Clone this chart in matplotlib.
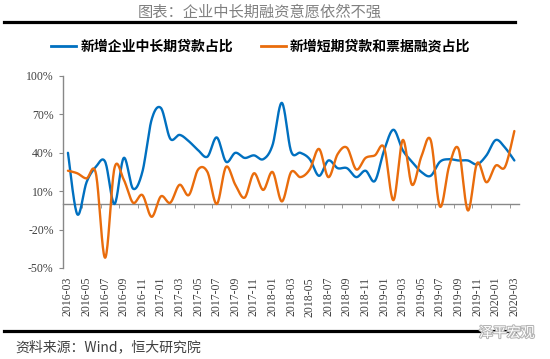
import numpy as np
import pandas as pd
import matplotlib
matplotlib.use("Agg")
import matplotlib.pyplot as plt
from matplotlib.lines import Line2D
import matplotlib.patheffects as pe

# monthly categories, 2016-03 .. 2020-03
months = pd.period_range("2016-03", "2020-03", freq="M").strftime("%Y-%m").tolist()

# share of new corporate medium/long-term loans (%)
long_term = [40, -8, 17, 29, 33, 0, 36, 12, 25, 66,
             75, 51, 54, 49, 42, 37, 52, 33, 40, 36,
             38, 35, 46, 79, 41, 40, 35, 22, 34, 28,
             28, 21, 26, 18, 42, 58, 42, 33, 25, 22,
             33, 35, 34, 34, 31, 38, 50, 44, 34]

# share of new short-term loans + bill financing (%)
short_term = [26, 24, 20, 24, -42, 28, 19, 1, 7, -10,
              6, 1, 15, 7, 27, 25, 0, 29, 15, 5,
              24, 11, 25, 2, 25, 21, 27, 43, 21, 39,
              44, 27, 36, 38, 44, 3, 50, 15, 37, 50,
              -2, 30, 43, -5, 32, 17, 30, 29, 57]

y_ticks = [-50, -20, 10, 40, 70, 100]

title = "图表：企业中长期融资意愿依然不强"
source = "资料来源：Wind，恒大研究院"
series_names = ["新增企业中长期贷款占比", "新增短期贷款和票据融资占比"]

cjk = ["Noto Sans CJK SC", "DejaVu Sans"]
serif = ["Liberation Serif", "DejaVu Serif"]
blue = "#0070C0"
orange = "#E96C0C"
grey = "#888888"


def smooth(y, n=20):
    # excel style smoothed line (bezier, control points at 1/6)
    y = np.asarray(y, dtype=float)
    pts = np.column_stack([np.arange(len(y), dtype=float), y])
    pad = np.vstack([pts[0], pts, pts[-1]])
    t = np.linspace(0, 1, n, endpoint=False)[:, None]
    out = []
    for i in range(len(pts) - 1):
        p0, p1, p2, p3 = pad[i], pad[i + 1], pad[i + 2], pad[i + 3]
        c1 = p1 + (p2 - p0) / 6
        c2 = p2 - (p3 - p1) / 6
        out.append((1 - t) ** 3 * p1 + 3 * (1 - t) ** 2 * t * c1
                   + 3 * (1 - t) * t ** 2 * c2 + t ** 3 * p2)
    out.append(pts[-1:])
    out = np.vstack(out)
    return out[:, 0], out[:, 1]


fig = plt.figure(figsize=(5.5, 3.59), dpi=100)
ax = fig.add_axes([63.3 / 550, 91 / 359, 455.7 / 550, 192 / 359])

for vals, c in [(long_term, blue), (short_term, orange)]:
    xs, ys = smooth(vals)
    ax.plot(xs, ys, color=c, lw=1.7, solid_capstyle="round", zorder=3)

ax.set_xlim(-0.5, len(months) - 0.5)
ax.set_ylim(-50, 100)

for s in ["top", "right"]:
    ax.spines[s].set_visible(False)
ax.spines["left"].set_color(grey)
ax.spines["bottom"].set_color(grey)
ax.spines["bottom"].set_position(("data", 0))
ax.spines["left"].set_linewidth(1.0)
ax.spines["bottom"].set_linewidth(1.0)

ax.set_xticks(range(0, len(months), 2))
ax.set_xticklabels(months[::2], rotation=90, family=serif, fontsize=8.5, color="#404040")
ax.set_xticks(np.arange(1.5, len(months) - 1, 2), minor=True)
ax.tick_params(axis="x", which="major", length=0, pad=52.5)
ax.tick_params(axis="x", which="minor", length=3, direction="out", color=grey)

ax.set_yticks(y_ticks)
ax.set_yticklabels([f"{v}%" for v in y_ticks], family=serif, fontsize=8.5, color="#404040")
ax.tick_params(axis="y", length=3, direction="out", color=grey, pad=4)

# header / footer
fig.text(0.473, 1 - 12 / 359, title, family=cjk, fontsize=11, color="#808080",
         ha="center", va="center")
fig.add_artist(Line2D([4 / 550, 515 / 550], [1 - 21.7 / 359] * 2, color="black", lw=2.3))
fig.add_artist(Line2D([4 / 550, 515 / 550], [1 - 331 / 359] * 2, color="black", lw=2.3))
fig.text(15 / 550, 1 - 347 / 359, source, family=cjk, fontsize=10, color="#404040",
         style="italic", ha="left", va="center")
fig.text(479 / 550, 1 - 333 / 359, "泽平宏观", family=cjk, fontsize=10, color="white",
         ha="left", va="center",
         path_effects=[pe.withStroke(linewidth=1.5, foreground="#b5b5b5")])

handles = [Line2D([], [], color=blue, lw=2), Line2D([], [], color=orange, lw=2)]
fig.legend(handles, series_names, loc="center", bbox_to_anchor=(0.4745, 1 - 47 / 359),
           ncol=2, frameon=False, handlelength=1.8, handletextpad=0.3, columnspacing=2.0,
           prop=dict(family=cjk, size=10, weight="bold"))

fig.savefig("out.png", dpi=100)
